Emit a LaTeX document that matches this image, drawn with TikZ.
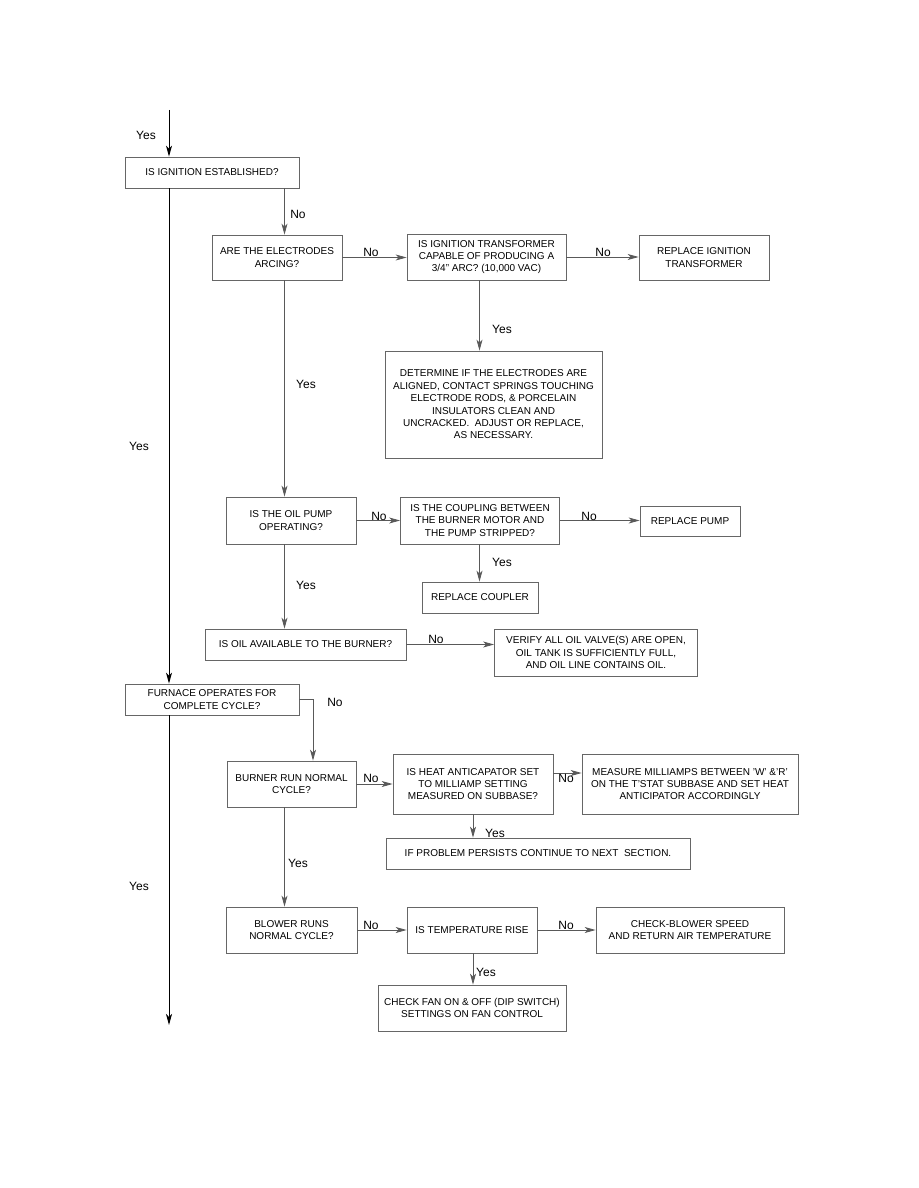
\documentclass[tikz,border=0pt]{standalone}
\usepackage{fontspec}
\setmainfont{Liberation Sans}
\usetikzlibrary{arrows.meta}

\begin{document}
\begin{tikzpicture}[x=1pt, y=-1pt,
    box/.style={draw=black!60, line width=0.8pt, align=center, inner sep=0pt,
        font=\fontsize{10}{12.4}\selectfont},
    arr/.style={draw=black!65, line width=0.8pt,
        -{Stealth[length=11pt, width=6pt, inset=3pt]}},
    mainarr/.style={arr, draw=black, line width=1pt},
    lbl/.style={font=\fontsize{12}{14}\selectfont}]

    % 余白
    \useasboundingbox (0,0) rectangle (918,1188);

    % 列の定義
    \coordinate (cM) at (169,0);
    \coordinate (cA) at (284.5,0);
    \coordinate (cB) at (479.5,0);
    \coordinate (cC) at (473,0);
    \coordinate (cF) at (313,0);
    \coordinate (top) at (169,110);
    \coordinate (bot) at (169,1025);

    % 箱の描画
    \node[box, minimum width=174, minimum height=31] (ign) at (212,172.5)
        {IS IGNITION ESTABLISHED?};
    \node[box, minimum width=130, minimum height=45] (arc) at (277,257.5)
        {ARE THE ELECTRODES\\ARCING?};
    \node[box, minimum width=159, minimum height=46] (xfmr) at (486.5,257)
        {IS IGNITION TRANSFORMER\\CAPABLE OF PRODUCING A\\3/4" ARC? (10,000 VAC)};
    \node[box, minimum width=130, minimum height=45] (rxfmr) at (704,257.5)
        {REPLACE IGNITION\\TRANSFORMER};
    \node[box, minimum width=217, minimum height=107] (electr) at (493.5,404.5)
        {DETERMINE IF THE ELECTRODES ARE\\ALIGNED, CONTACT SPRINGS TOUCHING\\
         ELECTRODE RODS, \& PORCELAIN\\INSULATORS CLEAN AND\\
         UNCRACKED.\ \ ADJUST OR REPLACE,\\AS NECESSARY.};
    \node[box, minimum width=130, minimum height=47] (pump) at (291,520.5)
        {IS THE OIL PUMP\\OPERATING?};
    \node[box, minimum width=159, minimum height=47] (coupl) at (480,520.5)
        {IS THE COUPLING BETWEEN\\THE BURNER MOTOR AND\\THE PUMP STRIPPED?};
    \node[box, minimum width=100, minimum height=30] (rpump) at (690,521)
        {REPLACE PUMP};
    \node[box, minimum width=116, minimum height=31] (rcoupl) at (480,597.5)
        {REPLACE COUPLER};
    \node[box, minimum width=201, minimum height=31] (oil) at (305.5,644.5)
        {IS OIL AVAILABLE TO THE BURNER?};
    \node[box, minimum width=203, minimum height=47] (valve) at (596,652.5)
        {VERIFY ALL OIL VALVE(S) ARE OPEN,\\OIL TANK IS SUFFICIENTLY FULL,\\AND OIL LINE CONTAINS OIL.};
    \node[box, minimum width=174, minimum height=31] (furn) at (212,699.5)
        {FURNACE OPERATES FOR\\COMPLETE CYCLE?};
    \node[box, minimum width=129, minimum height=46] (burner) at (291.5,784)
        {BURNER RUN NORMAL\\CYCLE?};
    \node[box, minimum width=160, minimum height=60] (antic) at (473,784)
        {IS HEAT ANTICAPATOR SET\\TO MILLIAMP SETTING\\MEASURED ON SUBBASE?};
    \node[box, minimum width=216, minimum height=60] (milli) at (690,784)
        {MEASURE MILLIAMPS BETWEEN 'W' \&'R'\\ON THE T'STAT SUBBASE AND SET HEAT\\ANTICIPATOR ACCORDINGLY};
    \node[box, minimum width=304, minimum height=31] (persist) at (538,853.5)
        {IF PROBLEM PERSISTS CONTINUE TO NEXT\ \ SECTION.};
    \node[box, minimum width=131, minimum height=46] (blower) at (291.5,930)
        {BLOWER RUNS\\NORMAL CYCLE?};
    \node[box, minimum width=130, minimum height=46] (temp) at (472,930)
        {IS TEMPERATURE RISE};
    \node[box, minimum width=188, minimum height=46] (speed) at (690,930)
        {CHECK-BLOWER SPEED\\AND RETURN AIR TEMPERATURE};
    \node[box, minimum width=188, minimum height=46] (fan) at (472,1008)
        {CHECK FAN ON \& OFF (DIP SWITCH)\\SETTINGS ON FAN CONTROL};

    % 主線
    \draw[mainarr] (top) -- (ign.north -| cM);
    \draw[mainarr] (ign.south -| cM) -- (furn.north -| cM);
    \draw[mainarr] (furn.south -| cM) -- (bot);

    % 矢印の描画
    \draw[arr] (ign.south -| cA) -- (arc.north -| cA);
    \draw[arr] (arc.east) -- (arc.east -| xfmr.west);
    \draw[arr] (xfmr.east) -- (xfmr.east -| rxfmr.west);
    \draw[arr] (xfmr.south -| cB) -- (electr.north -| cB);
    \draw[arr] (arc.south -| cA) -- (pump.north -| cA);
    \draw[arr] (pump.east) -- (pump.east -| coupl.west);
    \draw[arr] (coupl.east) -- (coupl.east -| rpump.west);
    \draw[arr] (coupl.south -| cB) -- (rcoupl.north -| cB);
    \draw[arr] (pump.south -| cA) -- (oil.north -| cA);
    \draw[arr] (oil.east) -- (oil.east -| valve.west);
    \draw[arr] (furn.east) -| (burner.north -| cF);
    \draw[arr] (burner.east) -- (burner.east -| antic.west);
    \draw[arr] ([yshift=11]antic.east) -- ([yshift=11]antic.east -| milli.west);
    \draw[arr] (antic.south -| cC) -- (persist.north -| cC);
    \draw[arr] (burner.south -| cA) -- (blower.north -| cA);
    \draw[arr] (blower.east) -- (blower.east -| temp.west);
    \draw[arr] (temp.east) -- (temp.east -| speed.west);
    \draw[arr] (temp.south -| cC) -- (fan.north -| cC);

    % ラベル
    \node[lbl] (y1) at (146,135) {Yes};
    \node[lbl] (n1) at (298,214) {No};
    \node[lbl] (n2) at (371,252) {No};
    \node[lbl] (n3) at (603,252) {No};
    \node[lbl] (y2) at (502,329) {Yes};
    \node[lbl] (y3) at (306,384) {Yes};
    \node[lbl] (y4) at (139,446) {Yes};
    \node[lbl] (n4) at (379,516) {No};
    \node[lbl] (n5) at (589,516) {No};
    \node[lbl] (y5) at (502,562) {Yes};
    \node[lbl] (y6) at (306,585) {Yes};
    \node[lbl] (n6) at (436,639) {No};
    \node[lbl] (n7) at (335,702) {No};
    \node[lbl] (n8) at (371,778) {No};
    \node[lbl] (n9) at (566,778) {No};
    \node[lbl] (y7) at (495,833) {Yes};
    \node[lbl] (y8) at (298,863) {Yes};
    \node[lbl] (y9) at (139,886) {Yes};
    \node[lbl] (n10) at (371,925) {No};
    \node[lbl] (n11) at (566,925) {No};
    \node[lbl] (y10) at (486,972) {Yes};

\end{tikzpicture}
\end{document}
